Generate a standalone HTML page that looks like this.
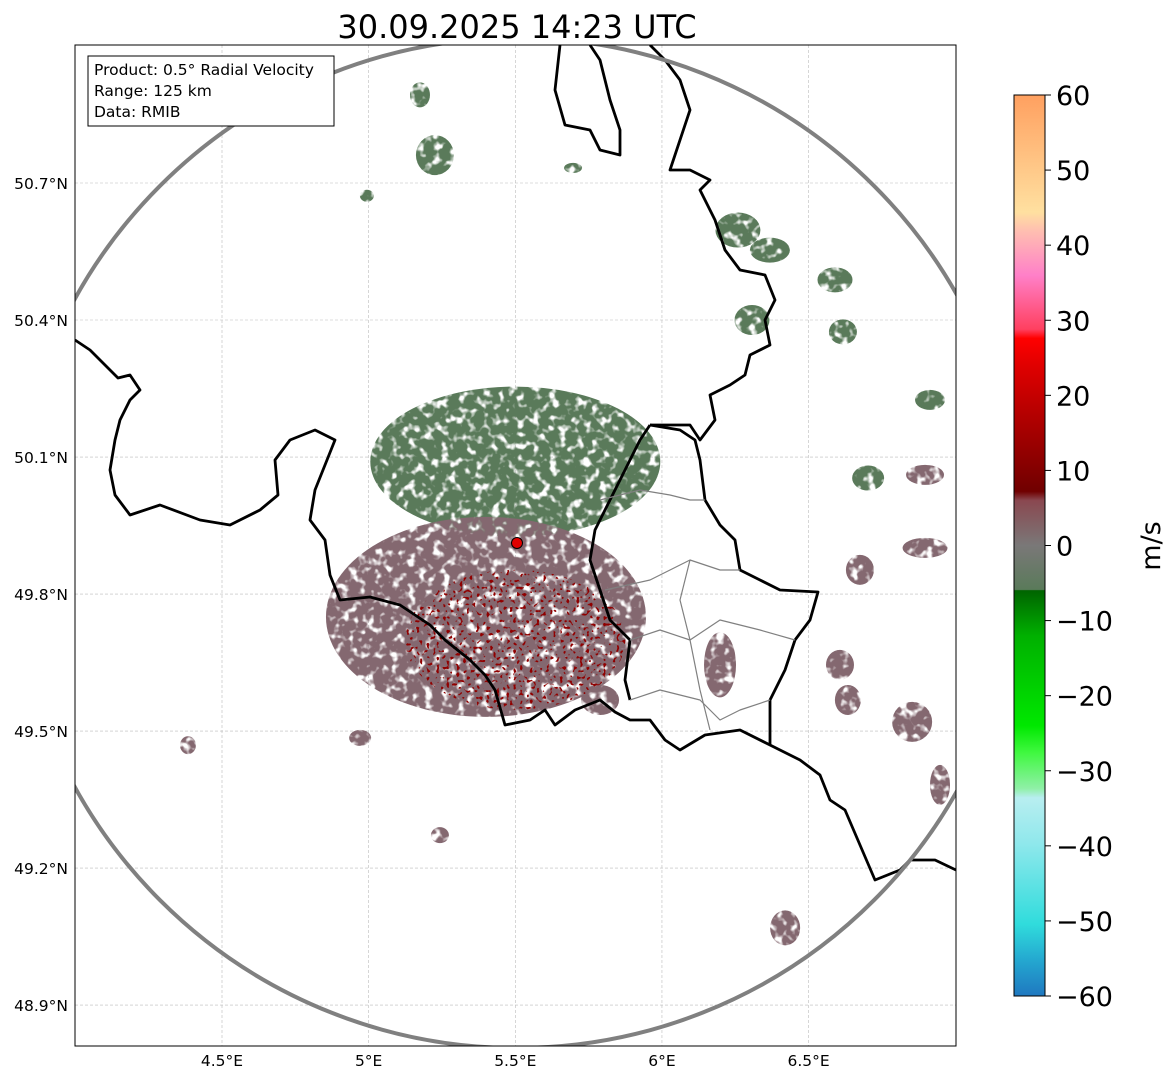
<!DOCTYPE html>
<html><head><meta charset="utf-8"><style>
html,body{margin:0;padding:0;background:#fff;}
svg{display:block;font-family:"DejaVu Sans","Liberation Sans",sans-serif;}
</style></head><body>
<svg id="chart" width="1171" height="1081" viewBox="0 0 1171 1081">
<defs>
<filter id="speck" x="0" y="0" width="100%" height="100%">
<feTurbulence type="fractalNoise" baseFrequency="0.12" numOctaves="2" seed="3" result="n"/>
<feColorMatrix in="n" type="matrix" values="0 0 0 0 0  0 0 0 0 0  0 0 0 0 0  0 0 0 -5 3.6" result="m"/>
<feComposite in="SourceGraphic" in2="m" operator="in"/>
</filter>
<filter id="speck2" x="0" y="0" width="100%" height="100%">
<feTurbulence type="fractalNoise" baseFrequency="0.3" numOctaves="1" seed="7" result="n"/>
<feColorMatrix in="n" type="matrix" values="0 0 0 0 0  0 0 0 0 0  0 0 0 0 0  0 0 0 -14 5.6" result="m"/>
<feComposite in="SourceGraphic" in2="m" operator="in"/>
</filter>
<linearGradient id="cbar" x1="0" y1="1" x2="0" y2="0">
<stop offset="0" stop-color="#1f78c0"/><stop offset="0.04" stop-color="#24a8d0"/>
<stop offset="0.08" stop-color="#30dcdc"/><stop offset="0.17" stop-color="#90e8ec"/>
<stop offset="0.22" stop-color="#b8eef0"/><stop offset="0.23" stop-color="#90f0a8"/>
<stop offset="0.27" stop-color="#40f840"/><stop offset="0.3" stop-color="#00e800"/>
<stop offset="0.4" stop-color="#00b000"/><stop offset="0.45" stop-color="#006400"/>
<stop offset="0.451" stop-color="#5a7a5a"/><stop offset="0.5" stop-color="#7a7878"/>
<stop offset="0.55" stop-color="#8a4850"/><stop offset="0.56" stop-color="#700000"/>
<stop offset="0.7" stop-color="#e00000"/><stop offset="0.73" stop-color="#ff0000"/>
<stop offset="0.74" stop-color="#ff4060"/><stop offset="0.8" stop-color="#ff80c8"/>
<stop offset="0.85" stop-color="#ffc0b0"/><stop offset="0.87" stop-color="#ffe0a0"/>
<stop offset="1" stop-color="#ffa060"/>
</linearGradient>
<clipPath id="plotclip"><rect x="75" y="45" width="881" height="1001"/></clipPath>
</defs>
<text x="517" y="38" text-anchor="middle" font-size="32">30.09.2025 14:23 UTC</text>
<g id="grid"></g>
<g id="echoes" clip-path="url(#plotclip)"></g>
<g id="borders" clip-path="url(#plotclip)" fill="none" stroke-linejoin="round">
<polyline stroke="#000" stroke-width="2.8" points="75,340 90,350 105,365 118,378 130,375 140,390 130,400 120,420 115,440 110,470 115,495 130,515 160,505 200,520 230,525 260,510 278,495 275,460 290,440 315,430 335,440 325,465 315,490 310,520 325,540 330,575 340,600 370,597 400,605 430,625 445,640 470,660 485,675 495,690 505,725 530,720 545,710 555,725 575,710 600,700 615,712 630,720 650,720 665,740 680,750 705,735 740,730 770,745 800,760 820,775 830,800 845,810 860,845 875,880 900,870 910,860 935,860 956,870"/>
<polyline stroke="#000" stroke-width="2.8" points="650,425 640,440 625,470 610,500 595,530 590,560 600,590 610,620 630,640 625,680 630,700"/>
<polyline stroke="#000" stroke-width="2.8" points="650,425 680,430 695,440 700,460 705,500 720,525 735,540 740,570 760,580 780,590 818,592 810,620 795,640 785,670 775,690 770,700 770,745"/>
<polyline stroke="#000" stroke-width="2.8" points="650,425 690,425 700,440 715,420 710,395 730,385 745,375 750,355 770,345 765,320 775,300 765,275 740,270 725,250 715,220 700,190 710,180 690,170 670,170 675,155 690,110 680,80 665,60 650,45"/>
<polyline stroke="#000" stroke-width="2.8" points="560,45 555,90 565,125 590,130 600,150 620,155 620,130 610,100 600,60 590,45"/>
<polyline stroke="#808080" stroke-width="1.2" points="600,500 640,490 670,495 690,500 705,500"/>
<polyline stroke="#808080" stroke-width="1.2" points="605,590 650,580 690,560 720,570 740,570"/>
<polyline stroke="#808080" stroke-width="1.2" points="630,640 660,630 690,640 720,620 760,630 795,640"/>
<polyline stroke="#808080" stroke-width="1.2" points="630,700 660,690 700,700 720,720 740,710 770,700"/>
<polyline stroke="#808080" stroke-width="1.2" points="690,560 680,600 690,640 700,690 710,730"/>
</g>
<circle id="range-ring" cx="517" cy="543" r="505" fill="none" stroke="#808080" stroke-width="4" clip-path="url(#plotclip)"/>
<circle id="radar-site" cx="517" cy="543" r="5.5" fill="#e00000" stroke="#000" stroke-width="1"/>
<rect x="75" y="45" width="881" height="1001" fill="none" stroke="#000" stroke-width="1"/>
<g>
<rect x="88" y="56" width="246" height="70" fill="#fff" stroke="#000" stroke-width="1"/>
<text x="94" y="75" font-size="15.5">Product: 0.5° Radial Velocity</text>
<text x="94" y="96" font-size="15.5">Range: 125 km</text>
<text x="94" y="117" font-size="15.5">Data: RMIB</text>
</g>
<g id="axes"></g>
<rect x="1014" y="95" width="31" height="901" fill="url(#cbar)" stroke="#000" stroke-width="1"/>
<g id="cbticks"></g>
<text transform="translate(1160,546) rotate(-90)" text-anchor="middle" font-size="27">m/s</text>
</svg>
<script>
const NS='http://www.w3.org/2000/svg';
const lonTicks=[4.5,5.0,5.5,6.0,6.5];
const lonLabels=['4.5°E','5°E','5.5°E','6°E','6.5°E'];
const latTicks=[50.7,50.4,50.1,49.8,49.5,49.2,48.9];
const latLabels=['50.7°N','50.4°N','50.1°N','49.8°N','49.5°N','49.2°N','48.9°N'];
const cbTicks=[-60,-50,-40,-30,-20,-10,0,10,20,30,40,50,60];
const cbLabels=['−60','−50','−40','−30','−20','−10','0','10','20','30','40','50','60'];
// echo clusters: lon, lat, width(px), height(px), velocity (m/s)
const echoLon=[5.226,6.259,6.368,6.590,6.307,6.617,6.914,6.703,6.897,5.175,4.994,5.697,6.198,6.607,6.634,6.853,6.897,6.675,5.789,4.384,6.420,6.948,4.971,5.243,5.50,5.40];
const echoLat=[50.761,50.597,50.553,50.488,50.400,50.374,50.225,50.054,50.061,50.893,50.672,50.733,49.645,49.645,49.568,49.520,49.901,49.853,49.568,49.469,49.069,49.382,49.485,49.272,50.09,49.75];
const echoW=[38,45,40,35,35,28,30,32,38,20,14,18,32,28,26,40,45,28,38,16,30,20,22,18,290,320];
const echoH=[40,35,25,25,30,25,20,25,20,25,12,10,65,30,30,40,20,30,30,18,35,40,16,16,150,200];
const echoV=[-3,-3,-3,-3,-3,-3,-3,-2,1,-3,-3,-3,2,2,2,2,2,2,2,2,2,2,2,2,-3,2];
const vmin=-60,vmax=60;
const X=lon=>222+(lon-4.5)*293.3;
const Y=lat=>183+(50.7-lat)*456.7;
const CB=v=>996-(v-vmin)/(vmax-vmin)*901;
function vColor(v){
  if(v<-5)return '#009000';
  if(v<-1)return '#5a7a5a';
  if(v<1)return '#787474';
  if(v<5)return '#846870';
  if(v<28)return '#a00000';
  return '#ff4060';
}
const grid=document.getElementById('grid');
const axes=document.getElementById('axes');
lonTicks.forEach((t,i)=>{
  const x=X(t);
  const l=document.createElementNS(NS,'line');
  
  
  l.setAttribute('x1',x);l.setAttribute('x2',x);l.setAttribute('y1',45);l.setAttribute('y2',1046);
  l.setAttribute('stroke','#bbb');l.setAttribute('stroke-width','0.6');l.setAttribute('stroke-dasharray','3,2');
  grid.appendChild(l);
  const tx=document.createElementNS(NS,'text');
  
  
  tx.setAttribute('x',x);tx.setAttribute('y',1066);tx.setAttribute('text-anchor','middle');tx.setAttribute('font-size','15.5');
  tx.textContent=lonLabels[i];axes.appendChild(tx);
});
latTicks.forEach((t,i)=>{
  const y=Y(t);
  const l=document.createElementNS(NS,'line');
  
  
  l.setAttribute('x1',75);l.setAttribute('x2',956);l.setAttribute('y1',y);l.setAttribute('y2',y);
  l.setAttribute('stroke','#bbb');l.setAttribute('stroke-width','0.6');l.setAttribute('stroke-dasharray','3,2');
  grid.appendChild(l);
  const tx=document.createElementNS(NS,'text');
  
  
  tx.setAttribute('x',68);tx.setAttribute('y',y+6);tx.setAttribute('text-anchor','end');tx.setAttribute('font-size','15.5');
  tx.textContent=latLabels[i];axes.appendChild(tx);
});
const eg=document.getElementById('echoes');
echoLon.forEach((lon,i)=>{
  const e=document.createElementNS(NS,'ellipse');
  
  
  e.setAttribute('cx',X(lon));e.setAttribute('cy',Y(echoLat[i]));
  e.setAttribute('rx',echoW[i]/2);e.setAttribute('ry',echoH[i]/2);
  e.setAttribute('fill',vColor(echoV[i]));
  e.setAttribute('filter','url(#speck)');
  eg.appendChild(e);
});
const red=document.createElementNS(NS,'ellipse');


red.setAttribute('cx',X(5.5));red.setAttribute('cy',Y(49.7));red.setAttribute('rx',110);red.setAttribute('ry',70);
red.setAttribute('fill','#900000');red.setAttribute('filter','url(#speck2)');
eg.appendChild(red);
const cb=document.getElementById('cbticks');
cbTicks.forEach((v,i)=>{
  const y=CB(v);
  const l=document.createElementNS(NS,'line');
  
  
  l.setAttribute('x1',1045);l.setAttribute('x2',1051);l.setAttribute('y1',y);l.setAttribute('y2',y);
  l.setAttribute('stroke','#000');cb.appendChild(l);
  const tx=document.createElementNS(NS,'text');
  
  
  tx.setAttribute('x',1056);tx.setAttribute('y',y+10);tx.setAttribute('font-size','27');
  tx.textContent=cbLabels[i];cb.appendChild(tx);
});
</script>
</body></html>
